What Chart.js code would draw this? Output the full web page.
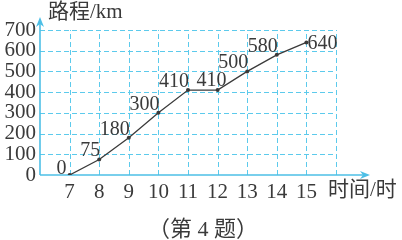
<!DOCTYPE html>
<html>
<head>
<meta charset="utf-8">
<script src="https://cdn.jsdelivr.net/npm/chart.js@4"></script>
<style>
html,body{margin:0;padding:0;background:#fff;}
#wrap{width:402px;height:240px;position:relative;}
</style>
</head>
<body>
<div id="wrap"><canvas id="c" width="402" height="240"></canvas></div>
<script>
const hours = [7, 8, 9, 10, 11, 12, 13, 14, 15];
const distance = [0, 75, 180, 300, 410, 410, 500, 580, 640];
const labelAnchor = ['w', 'nw', 'nw', 'nw', 'nw', 'n', 'nw', 'nw', 'e'];
const xMin = 6, xMax = 16;
const yMin = 0, yMax = 700, yStep = 100;
const yTitle = '路程/km';
const xTitle = '时间/时';
const caption = '（第 4 题）';

const AXIS = '#4dbfe6';
const GRID = '#5ccaec';
const INK = '#3a3a3a';
const SERIF = '"Liberation Serif", "Noto Sans CJK SC", serif';

const decor = {
  id: 'decor',
  beforeDatasetsDraw(chart) {
    const {ctx, chartArea: a} = chart;
    const xs = chart.scales.x, ys = chart.scales.y;
    ctx.save();
    ctx.strokeStyle = GRID; ctx.lineWidth = 1; ctx.setLineDash([5, 3]);
    xs.ticks.forEach(t => {
      if (t.value === xMin) return;
      const px = Math.round(xs.getPixelForValue(t.value)) + 0.5;
      ctx.beginPath(); ctx.moveTo(px, a.bottom); ctx.lineTo(px, a.top); ctx.stroke();
    });
    ys.ticks.forEach(t => {
      if (t.value === yMin) return;
      const py = Math.round(ys.getPixelForValue(t.value)) + 0.5;
      ctx.beginPath(); ctx.moveTo(a.left, py); ctx.lineTo(a.right, py); ctx.stroke();
    });
    ctx.setLineDash([]);
    ctx.strokeStyle = AXIS; ctx.fillStyle = AXIS; ctx.lineWidth = 1.6;
    const xe = a.right + 34;
    ctx.beginPath(); ctx.moveTo(a.left, a.bottom); ctx.lineTo(xe - 4, a.bottom); ctx.stroke();
    ctx.beginPath(); ctx.moveTo(xe, a.bottom); ctx.lineTo(xe - 10, a.bottom - 4); ctx.lineTo(xe - 7, a.bottom); ctx.lineTo(xe - 10, a.bottom + 4); ctx.closePath(); ctx.fill();
    const yt = a.top - 13;
    ctx.beginPath(); ctx.moveTo(a.left, a.bottom); ctx.lineTo(a.left, yt + 4); ctx.stroke();
    ctx.beginPath(); ctx.moveTo(a.left, yt); ctx.lineTo(a.left - 4, yt + 10); ctx.lineTo(a.left, yt + 7); ctx.lineTo(a.left + 4, yt + 10); ctx.closePath(); ctx.fill();
    ctx.restore();
  },
  afterDatasetsDraw(chart) {
    const {ctx, chartArea: a} = chart;
    const meta = chart.getDatasetMeta(0);
    ctx.save();
    ctx.fillStyle = INK;
    ctx.font = '20px ' + SERIF;
    meta.data.forEach((p, i) => {
      const t = String(distance[i]);
      const an = labelAnchor[i];
      ctx.textBaseline = 'alphabetic';
      if (an === 'nw') { ctx.textAlign = 'right'; ctx.fillText(t, p.x + 1, p.y - 3); }
      else if (an === 'w') { ctx.textAlign = 'right'; ctx.fillText(t, p.x - 3, p.y - 1); }
      else if (an === 'n') { ctx.textAlign = 'center'; ctx.fillText(t, p.x - 6, p.y - 4); }
      else if (an === 'e') { ctx.textAlign = 'left'; ctx.textBaseline = 'middle'; ctx.fillText(t, p.x + 1, p.y + 1); }
    });
    ctx.font = '21px ' + SERIF;
    ctx.textAlign = 'left'; ctx.textBaseline = 'middle';
    ctx.fillText(yTitle, a.left + 8, a.top - 18);
    ctx.fillText(xTitle, a.right - 8, a.bottom + 15);
    ctx.font = '22px ' + SERIF;
    ctx.textAlign = 'center';
    ctx.fillText(caption, chart.width / 2 + 2, chart.height - 10);
    ctx.restore();
  }
};

new Chart(document.getElementById('c'), {
  type: 'line',
  data: {
    datasets: [{
      data: hours.map((h, i) => ({x: h, y: distance[i]})),
      borderColor: INK,
      borderWidth: 1.3,
      pointRadius: 2,
      pointBackgroundColor: INK,
      pointBorderWidth: 0,
      tension: 0,
      fill: false
    }]
  },
  options: {
    responsive: false,
    animation: false,
    devicePixelRatio: 1,
    layout: {padding: {left: 0, top: 30, right: 66, bottom: 0}},
    plugins: {legend: {display: false}, tooltip: {enabled: false}, title: {display: false}},
    scales: {
      x: {
        type: 'linear', min: xMin, max: xMax,
        afterFit: s => { s.height = 65; },
        border: {display: false},
        grid: {display: false, drawTicks: false},
        ticks: {
          stepSize: 1, padding: 5, color: INK,
          font: {family: SERIF, size: 21},
          maxRotation: 0, autoSkip: false,
          callback: v => (v > xMin && v < xMax) ? String(v) : ''
        }
      },
      y: {
        min: yMin, max: yMax,
        afterFit: s => { s.width = 40; },
        border: {display: false},
        grid: {display: false, drawTicks: false},
        ticks: {
          stepSize: yStep, padding: 4, color: INK, autoSkip: false,
          font: {family: SERIF, size: 21}
        }
      }
    }
  },
  plugins: [decor]
});
</script>
</body>
</html>
